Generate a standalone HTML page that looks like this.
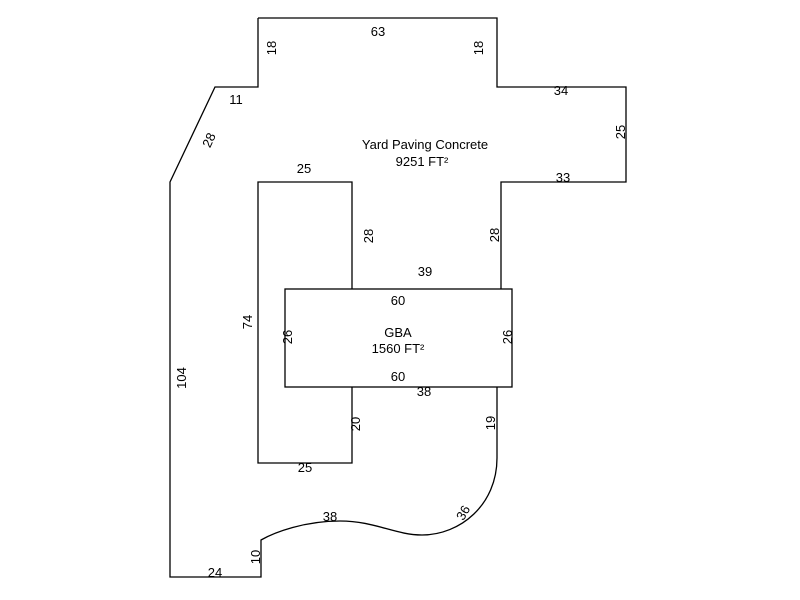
<!DOCTYPE html>
<html><head><style>body{margin:0;background:#fff}svg{display:block}text{font-family:"Liberation Sans",Arial,sans-serif;font-size:13px;fill:#000}</style></head><body>
<svg width="800" height="600" viewBox="0 0 800 600">
<g fill="none" stroke="#000" stroke-width="1.3">
<path d="M258,18 L497,18 L497,87 L626,87 L626,182 L501,182 L501,289"/>
<path d="M497,387 L497,458 C497,505 460,535 422,535 C395,535 375,521 340,521 C305,521 275,532 261,540 L261,577 L170,577 L170,182 L215,87 L258,87 L258,18"/>
<rect x="285" y="289" width="227" height="98"/>
<path d="M352,289 L352,182 L258,182 L258,463 L352,463 L352,387"/>
</g>
<g text-anchor="middle">
<text x="378" y="36">63</text>
<text x="236" y="104">11</text>
<text x="561" y="95">34</text>
<text x="563" y="182">33</text>
<text x="304" y="173">25</text>
<text x="425" y="276">39</text>
<text x="398" y="305">60</text>
<text x="398" y="381">60</text>
<text x="424" y="396">38</text>
<text x="305" y="472">25</text>
<text x="330" y="521">38</text>
<text x="215" y="577">24</text>
<text x="425" y="149">Yard Paving Concrete</text>
<text x="422" y="166">9251 FT²</text>
<text x="398" y="337">GBA</text>
<text x="398" y="353">1560 FT²</text>
<text transform="translate(276,48) rotate(-90)">18</text>
<text transform="translate(483,48) rotate(-90)">18</text>
<text transform="translate(625,132) rotate(-90)">25</text>
<text transform="translate(213,142) rotate(-65)">28</text>
<text transform="translate(373,236) rotate(-90)">28</text>
<text transform="translate(499,235) rotate(-90)">28</text>
<text transform="translate(252,322) rotate(-90)">74</text>
<text transform="translate(292,337) rotate(-90)">26</text>
<text transform="translate(512,337) rotate(-90)">26</text>
<text transform="translate(186,378) rotate(-90)">104</text>
<text transform="translate(360,424) rotate(-90)">20</text>
<text transform="translate(495,423) rotate(-90)">19</text>
<text transform="translate(467,515) rotate(-60)">36</text>
<text transform="translate(260,557) rotate(-90)">10</text>
</g>
</svg>
</body></html>
